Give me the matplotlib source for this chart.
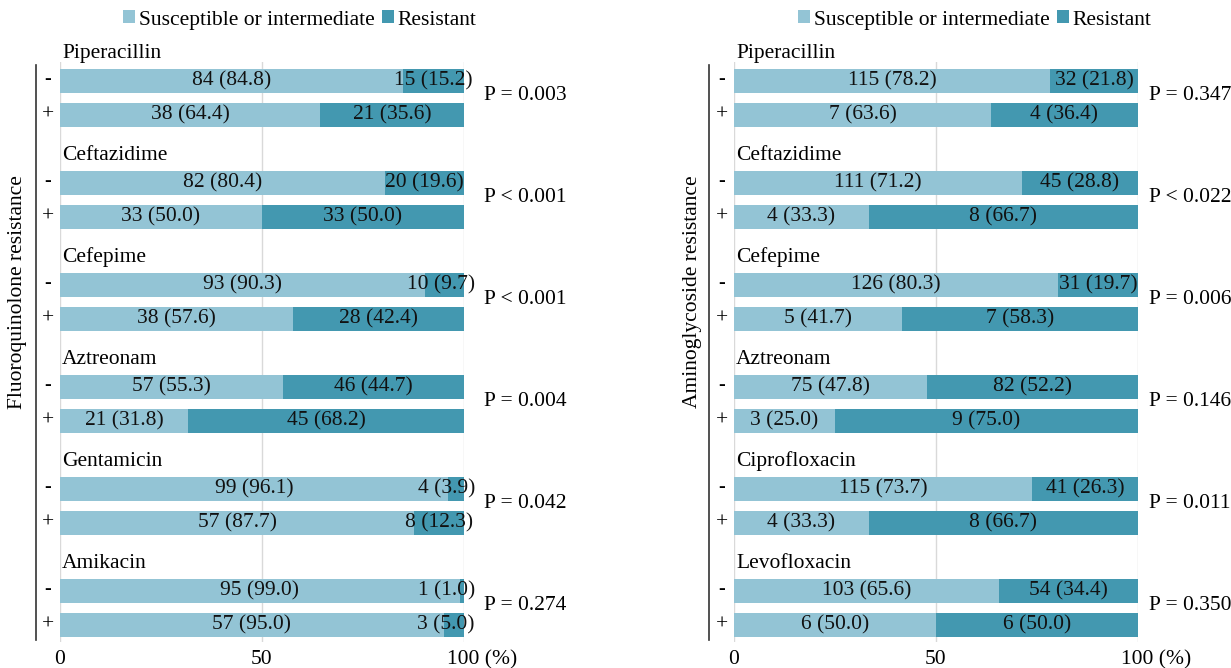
import matplotlib
matplotlib.use("Agg")
import matplotlib.pyplot as plt
from matplotlib.patches import Patch
from matplotlib.lines import Line2D
from matplotlib.transforms import blended_transform_factory

plt.rcParams['font.family'] = ['Liberation Serif', 'DejaVu Serif']

# Fluoroquinolone resistance panel
fq_drugs = ['Piperacillin', 'Ceftazidime', 'Cefepime', 'Aztreonam', 'Gentamicin', 'Amikacin']
fq_neg_s = [84, 82, 93, 57, 99, 95]
fq_neg_s_pct = [84.8, 80.4, 90.3, 55.3, 96.1, 99.0]
fq_neg_r = [15, 20, 10, 46, 4, 1]
fq_neg_r_pct = [15.2, 19.6, 9.7, 44.7, 3.9, 1.0]
fq_pos_s = [38, 33, 38, 21, 57, 57]
fq_pos_s_pct = [64.4, 50.0, 57.6, 31.8, 87.7, 95.0]
fq_pos_r = [21, 33, 28, 45, 8, 3]
fq_pos_r_pct = [35.6, 50.0, 42.4, 68.2, 12.3, 5.0]
fq_p = ['P = 0.003', 'P < 0.001', 'P < 0.001', 'P = 0.004', 'P = 0.042', 'P = 0.274']

# Aminoglycoside resistance panel
ag_drugs = ['Piperacillin', 'Ceftazidime', 'Cefepime', 'Aztreonam', 'Ciprofloxacin', 'Levofloxacin']
ag_neg_s = [115, 111, 126, 75, 115, 103]
ag_neg_s_pct = [78.2, 71.2, 80.3, 47.8, 73.7, 65.6]
ag_neg_r = [32, 45, 31, 82, 41, 54]
ag_neg_r_pct = [21.8, 28.8, 19.7, 52.2, 26.3, 34.4]
ag_pos_s = [7, 4, 5, 3, 4, 6]
ag_pos_s_pct = [63.6, 33.3, 41.7, 25.0, 33.3, 50.0]
ag_pos_r = [4, 8, 7, 9, 8, 6]
ag_pos_r_pct = [36.4, 66.7, 58.3, 75.0, 66.7, 50.0]
ag_p = ['P = 0.347', 'P < 0.022', 'P = 0.006', 'P = 0.146', 'P = 0.011', 'P = 0.350']

ticks = [0, 50, 100]
legend_labels = ['Susceptible or intermediate', 'Resistant']

LIGHT = '#93c4d5'
DARK = '#4398b0'
GRID = '#d9d9d9'
FS = 15.5
W, H = 1231, 668

fig = plt.figure(figsize=(W / 100, H / 100), dpi=100)


def fx(px):
    return px / W


def fy(py):
    return 1 - py / H


def seg_label(ax, renderer, x, y, txt, clamp=None):
    t = ax.text(x, y, txt, ha='center', va='center', fontsize=FS, color='#111111', zorder=4)
    if clamp is not None:
        # keep labels of thin segments from running past the bar end
        bb = t.get_window_extent(renderer=renderer)
        inv = ax.transData.inverted()
        x1 = inv.transform((bb.x1, bb.y0))[0]
        if x1 > clamp:
            t.set_x(x - (x1 - clamp))
    return t


def draw_panel(x0, drugs, ns, nsp, nr, nrp, ps, psp, pr, prp, pvals, ylabel,
               line_px, sign_px, p_px, ylabel_px, legend_px):
    ax = fig.add_axes([fx(x0), fy(642), 404 / W, 580 / H])
    ax.set_xlim(0, 100)
    ax.set_ylim(16.5, -0.56)
    for s in ax.spines.values():
        s.set_visible(False)
    ax.set_xticks([])
    ax.set_yticks([])
    for v in ticks:
        ax.axvline(v, color=GRID, lw=1, zorder=0)

    neg_y = [3 * k for k in range(len(drugs))]
    pos_y = [3 * k + 1 for k in range(len(drugs))]
    ax.barh(neg_y, nsp, height=0.68, color=LIGHT, zorder=2)
    ax.barh(neg_y, nrp, left=nsp, height=0.68, color=DARK, zorder=2)
    ax.barh(pos_y, psp, height=0.68, color=LIGHT, zorder=2)
    ax.barh(pos_y, prp, left=psp, height=0.68, color=DARK, zorder=2)

    renderer = fig.canvas.get_renderer()
    for k, drug in enumerate(drugs):
        ax.text(0.5, neg_y[k] - 0.82, drug, ha='left', va='center', fontsize=FS)
        seg_label(ax, renderer, nsp[k] / 2, neg_y[k], f'{ns[k]} ({nsp[k]:.1f})')
        seg_label(ax, renderer, nsp[k] + nrp[k] / 2, neg_y[k], f'{nr[k]} ({nrp[k]:.1f})', clamp=102.7)
        seg_label(ax, renderer, psp[k] / 2, pos_y[k], f'{ps[k]} ({psp[k]:.1f})')
        seg_label(ax, renderer, psp[k] + prp[k] / 2, pos_y[k], f'{pr[k]} ({prp[k]:.1f})', clamp=102.7)

    tr = blended_transform_factory(fig.transFigure, ax.transData)
    for k in range(len(drugs)):
        ax.text(fx(sign_px), neg_y[k] - 0.05, '-', transform=tr, ha='center', va='center', fontsize=FS - 1)
        ax.text(fx(sign_px), pos_y[k], '+', transform=tr, ha='center', va='center', fontsize=FS)
        ax.text(fx(p_px), neg_y[k] + 0.42, pvals[k], transform=tr, ha='left', va='center', fontsize=FS)

    trx = blended_transform_factory(ax.transData, fig.transFigure)
    ax.text(0, fy(660), '0', transform=trx, ha='center', va='center', fontsize=FS)
    ax.text(50, fy(660), '50', transform=trx, ha='center', va='center', fontsize=FS)
    ax.text(100 - 17 / 4.04, fy(660), '100 (%)', transform=trx, ha='left', va='center', fontsize=FS)

    fig.add_artist(Line2D([fx(line_px), fx(line_px)], [fy(65), fy(640)],
                          transform=fig.transFigure, color='#333333', lw=1.2))
    fig.text(fx(ylabel_px), fy(292), ylabel, rotation=90, ha='center', va='center', fontsize=FS)

    handles = [Patch(facecolor=LIGHT), Patch(facecolor=DARK)]
    fig.legend(handles, legend_labels, loc='center', bbox_to_anchor=(fx(legend_px), fy(20)),
               ncol=2, frameon=False, fontsize=FS, handlelength=0.55, handleheight=0.55,
               handletextpad=0.2, columnspacing=0.3, borderpad=0)
    return ax


draw_panel(60, fq_drugs, fq_neg_s, fq_neg_s_pct, fq_neg_r, fq_neg_r_pct,
           fq_pos_s, fq_pos_s_pct, fq_pos_r, fq_pos_r_pct, fq_p,
           'Fluoroquinolone resistance', 36, 48, 484, 18, 300)
draw_panel(734, ag_drugs, ag_neg_s, ag_neg_s_pct, ag_neg_r, ag_neg_r_pct,
           ag_pos_s, ag_pos_s_pct, ag_pos_r, ag_pos_r_pct, ag_p,
           'Aminoglycoside resistance', 709, 722, 1149, 692, 975)

fig.savefig('out.png', dpi=100)
